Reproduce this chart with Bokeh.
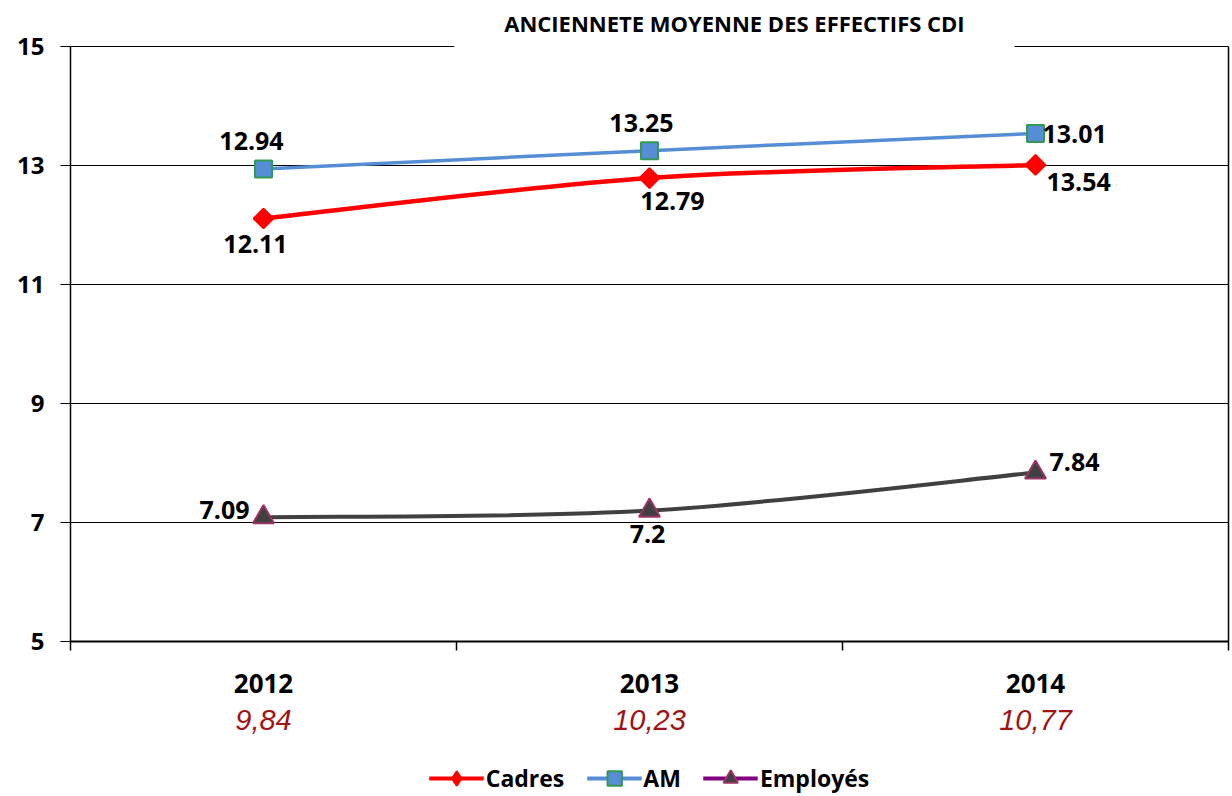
import math
from bokeh.plotting import figure
from bokeh.layouts import column
from bokeh.models import (Range1d, LinearAxis, FixedTicker, Grid, Label, Legend,
                          LegendItem, ColumnDataSource)
from bokeh.core.properties import value
from bokeh.embed import file_html
from bokeh.resources import INLINE

# ---- data ----
years = ["2012", "2013", "2014"]
ratio_labels = ["9,84", "10,23", "10,77"]
cadres = [12.11, 12.79, 13.01]
am = [12.94, 13.25, 13.54]
employes = [7.09, 7.20, 7.84]
cadres_labels = ["12.11", "12.79", "13.54"]
am_labels = ["12.94", "13.25", "13.01"]
employes_labels = ["7.09", "7.2", "7.84"]
y_ticks = [5, 7, 9, 11, 13, 15]
title_text = "ANCIENNETE MOYENNE DES EFFECTIFS CDI"

FONT = "Open Sans"
xs = [i + 0.5 for i in range(len(years))]

p = figure(width=1232, height=756, x_range=Range1d(0, len(years)), y_range=Range1d(5, 15.69),
           x_axis_type=None, y_axis_type=None, output_backend="svg", toolbar_location=None,
           min_border_left=70, min_border_right=4, min_border_top=5, min_border_bottom=115)
p.outline_line_color = None
p.background_fill_color = "white"

# y axis
yax = LinearAxis(ticker=FixedTicker(ticks=y_ticks), bounds=(5, 15))
yax.axis_line_color = "black"
yax.axis_line_width = 1.5
yax.major_tick_out = 10
yax.major_tick_in = 0
yax.major_tick_line_color = "black"
yax.minor_tick_line_color = None
yax.major_label_standoff = 16
yax.major_label_text_font = FONT
yax.major_label_text_font_style = "bold"
yax.major_label_text_font_size = "24px"
yax.major_label_text_color = "black"
p.add_layout(yax, "left")
p.add_layout(Grid(dimension=1, ticker=yax.ticker, grid_line_color="black", grid_line_width=1))

# right spine
rax = LinearAxis(ticker=FixedTicker(ticks=[]), bounds=(5, 15))
rax.axis_line_color = "black"
rax.axis_line_width = 1.5
rax.major_tick_line_color = None
rax.minor_tick_line_color = None
rax.major_tick_out = 0
rax.major_label_standoff = 0
rax.major_label_text_font_size = "0px"
p.add_layout(rax, "right")

# x axes
ax1 = LinearAxis(ticker=FixedTicker(ticks=xs, minor_ticks=list(range(len(years) + 1))))
ax1.major_label_overrides = {x: y for x, y in zip(xs, years)}
ax1.axis_line_color = "black"
ax1.axis_line_width = 2
ax1.major_tick_line_color = None
ax1.major_tick_out = 0
ax1.major_tick_in = 0
ax1.minor_tick_line_color = "black"
ax1.minor_tick_line_width = 1.5
ax1.minor_tick_out = 9
ax1.minor_tick_in = 0
ax1.major_label_standoff = 23
ax1.major_label_text_font = FONT
ax1.major_label_text_font_style = "bold"
ax1.major_label_text_font_size = "26px"
ax1.major_label_text_color = "black"
p.add_layout(ax1, "below")

ax2 = LinearAxis(ticker=FixedTicker(ticks=xs, minor_ticks=[]))
ax2.major_label_overrides = {x: r for x, r in zip(xs, ratio_labels)}
ax2.axis_line_color = None
ax2.major_tick_line_color = None
ax2.minor_tick_line_color = None
ax2.major_tick_out = 0
ax2.major_label_standoff = 14
ax2.major_label_text_font = "Liberation Sans"
ax2.major_label_text_font_style = "italic"
ax2.major_label_text_font_size = "29px"
ax2.major_label_text_color = "#A01414"
p.add_layout(ax2, "below")


def smooth(xv, yv):
    n = len(xv)
    out = {k: [] for k in ("x0", "y0", "x1", "y1", "cx0", "cy0", "cx1", "cy1")}
    for i in range(n - 1):
        im = max(i - 1, 0)
        ip = min(i + 2, n - 1)
        out["x0"].append(xv[i]); out["y0"].append(yv[i])
        out["x1"].append(xv[i + 1]); out["y1"].append(yv[i + 1])
        out["cx0"].append(xv[i] + (xv[i + 1] - xv[im]) / 6)
        out["cy0"].append(yv[i] + (yv[i + 1] - yv[im]) / 6)
        out["cx1"].append(xv[i + 1] - (xv[ip] - xv[i]) / 6)
        out["cy1"].append(yv[i + 1] - (yv[ip] - yv[i]) / 6)
    return ColumnDataSource(out)


series = [
    (cadres, cadres_labels, "#FF0000", 4.5, "square", 14, math.pi / 4, "diamond", "#FF0000", "#FF0000", "#FF0000", "Cadres",
     [("center", -8, 26), ("center", 23, 23), ("left", 11, 17)]),
    (am, am_labels, "#558ED5", 3.5, "square", 17, 0, "square", "#558ED5", "#339955", "#558ED5", "AM",
     [("center", -12, -28), ("center", -8, -28), ("left", 7, 1)]),
    (employes, employes_labels, "#404040", 4, "triangle", 21, 0, "triangle", "#404040", "#993366", "#800080", "Employés",
     [("right", -14, -7), ("center", -2, 23), ("left", 14, -11)]),
]

# legend figure (series drawn out of its visible range; only the legend shows)
lg = figure(width=1232, height=40, x_range=Range1d(100, 101), y_range=Range1d(100, 101),
            x_axis_type=None, y_axis_type=None, output_backend="svg", toolbar_location=None,
            min_border=0)
lg.outline_line_color = None
lg.xgrid.visible = False
lg.ygrid.visible = False

items = []
for vals, labs, lc, lw, mk, ms, ang, lmk, fc, oc, leg_lc, name, lstyle in series:
    p.bezier(x0="x0", y0="y0", x1="x1", y1="y1", cx0="cx0", cy0="cy0", cx1="cx1", cy1="cy1",
             source=smooth(xs, vals), line_color=lc, line_width=lw, line_cap="round")
    p.scatter(xs, vals, marker=mk, size=ms, angle=ang, fill_color=fc, line_color=oc, line_width=2)
    src = ColumnDataSource(dict(x=xs, y=vals, t=labs,
                                a=[s[0] for s in lstyle],
                                xo=[s[1] for s in lstyle],
                                yo=[s[2] for s in lstyle]))
    p.text(x="x", y="y", text="t", source=src, text_align="a", x_offset="xo", y_offset="yo",
           text_baseline="middle", text_font=value(FONT), text_font_style="bold",
           text_font_size="25px", text_color="black")
    lsrc = ColumnDataSource(dict(x=xs, y=vals))
    r1 = lg.line("x", "y", source=lsrc, line_color=leg_lc, line_width=4)
    r2 = lg.scatter("x", "y", source=lsrc, marker=lmk, size=16,
                    fill_color=fc, line_color=oc, line_width=2)
    items.append(LegendItem(label=name, renderers=[r1, r2]))

legend = Legend(items=items, orientation="horizontal", location="bottom_center")
legend.padding = 0
legend.margin = 0
legend.spacing = 22
legend.glyph_width = 55
legend.glyph_height = 36
legend.label_height = 36
legend.label_standoff = 2
legend.label_text_font = FONT
legend.label_text_font_style = "bold"
legend.label_text_font_size = "23px"
legend.label_text_color = "black"
legend.border_line_color = None
legend.background_fill_alpha = 0
lg.add_layout(legend)

title = Label(x=1.72, y=15.40, text=title_text, text_align="center", text_baseline="middle",
              text_font=FONT, text_font_style="bold", text_font_size="22px",
              text_color="black", background_fill_color="white", padding=(50, 16))
p.add_layout(title)

layout = column(p, lg, spacing=0)
open("out.html", "w").write(file_html(layout, INLINE))
